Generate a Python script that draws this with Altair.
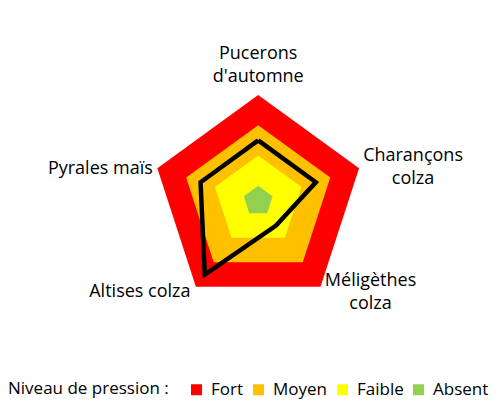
import altair as alt
import pandas as pd
import numpy as np

# ---- data ----
categories = ["Pucerons d'automne", "Charançons colza", "Méligèthes colza", "Altises colza", "Pyrales maïs"]
label_text = ["Pucerons\nd'automne", "Charançons\ncolza", "Méligèthes\ncolza", "Altises colza", "Pyrales maïs"]
series_values = [2, 2, 1, 3, 2]
levels = ["Fort", "Moyen", "Faible", "Absent"]
level_values = [3.5, 2.5, 1.5, 0.5]
level_colors = ["#FF0000", "#FFC000", "#FFFF00", "#92D050"]

# ---- layout ----
W, H = 487, 392
U = 30.3                 # pixels per value unit
CX, CY = 250.2, 193.0    # centre of the radar in chart pixels
FONT = "Open Sans"
FS = 18
LFS = 17
label_offsets = [(0, -41), (54, -12.5), (50, -6), (-56, 5), (-57, 1)]  # px from outer vertex

n = len(categories)
angles = [2 * np.pi * i / n for i in range(n)]

rows = []
for lvl, v in zip(levels, level_values):
    for i, a in enumerate(angles):
        rows.append({"niveau": lvl, "i": i, "x": v * np.sin(a), "y": v * np.cos(a)})
bands = pd.DataFrame(rows)

line_rows = []
for k in range(n + 1):
    i = k % n
    line_rows.append({"i": k, "cat": categories[i],
                      "x": series_values[i] * np.sin(angles[i]),
                      "y": series_values[i] * np.cos(angles[i])})
series = pd.DataFrame(line_rows)

rmax = max(level_values)
lab_rows = []
for i, a in enumerate(angles):
    dx, dy = label_offsets[i]
    lab_rows.append({"label": label_text[i],
                     "x": rmax * np.sin(a) + dx / U,
                     "y": rmax * np.cos(a) - dy / U})
labels = pd.DataFrame(lab_rows)

xs = alt.Scale(domain=[-CX / U, (W - CX) / U], nice=False, zero=False)
ys = alt.Scale(domain=[-(H - CY) / U, CY / U], nice=False, zero=False)
X = alt.X("x:Q", scale=xs, axis=None)
Y = alt.Y("y:Q", scale=ys, axis=None)

color = alt.Color(
    "niveau:N",
    scale=alt.Scale(domain=levels, range=level_colors),
    legend=alt.Legend(
        title="Niveau de pression :",
        orient="none", legendX=0, legendY=373,
        direction="horizontal", titleOrient="left",
        titleFont=FONT, titleFontSize=LFS, titleFontWeight="normal", titleColor="#000000",
        labelFont=FONT, labelFontSize=LFS, labelColor="#000000",
        symbolType="square", symbolSize=121, symbolStrokeWidth=0,
        symbolOpacity=1, columnPadding=6, labelOffset=6, titlePadding=19,
    ),
)

layers = []
for lvl in levels:
    layers.append(
        alt.Chart(bands)
        .transform_filter(alt.datum.niveau == lvl)
        .mark_line(filled=True, strokeWidth=0)
        .encode(x=X, y=Y, order="i:Q", color=color)
    )

line = alt.Chart(series).mark_line(color="black", strokeWidth=4.5, strokeJoin="miter").encode(
    x=X, y=Y, order="i:Q"
)

text = alt.Chart(labels).mark_text(
    font=FONT, fontSize=FS, lineBreak="\n", lineHeight=23,
    align="center", baseline="middle", color="#000000"
).encode(x=X, y=Y, text="label:N")

chart = alt.layer(*layers, line, text).properties(
    width=W, height=H, autosize=alt.AutoSizeParams(type="none"), padding=0
).configure_view(stroke=None)

chart.save("out.html", embed_options={"renderer": "svg", "actions": False})
